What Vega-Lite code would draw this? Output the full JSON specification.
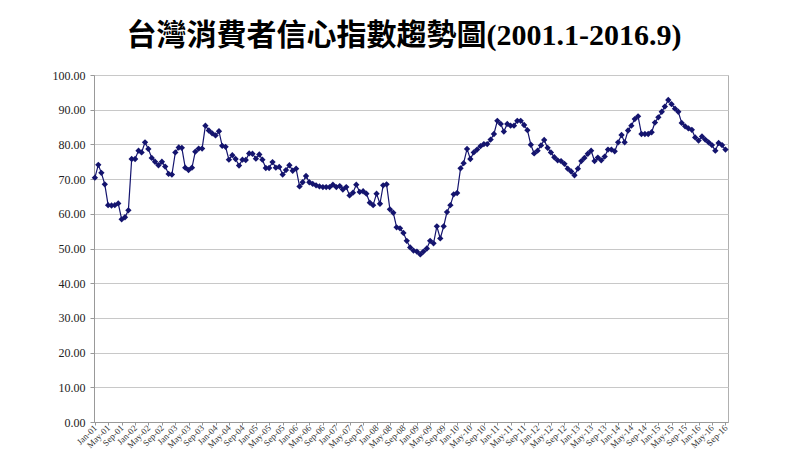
{
  "$schema": "https://vega.github.io/schema/vega-lite/v6.json",
  "width": 634,
  "height": 347,
  "autosize": {"type": "none"},
  "padding": {"left": 94, "top": 75, "right": 72, "bottom": 28},
  "background": "white",
  "title": {
    "text": "台灣消費者信心指數趨勢圖(2001.1-2016.9)",
    "font": "Liberation Serif, Noto Sans CJK TC",
    "fontSize": 30,
    "fontWeight": "bold",
    "color": "#000000",
    "anchor": "middle",
    "frame": "group",
    "offset": 18,
    "dx": -7
  },
  "config": {"view": {"stroke": "#b0b0b0", "strokeWidth": 1}},
  "data": {
    "values": [
      {"month": "2001-01-01", "cci": 70.4}, {"month": "2001-02-01", "cci": 74.1}, {"month": "2001-03-01", "cci": 71.8}, {"month": "2001-04-01", "cci": 68.5},
      {"month": "2001-05-01", "cci": 62.5}, {"month": "2001-06-01", "cci": 62.4}, {"month": "2001-07-01", "cci": 62.5}, {"month": "2001-08-01", "cci": 63.0},
      {"month": "2001-09-01", "cci": 58.4}, {"month": "2001-10-01", "cci": 59.0}, {"month": "2001-11-01", "cci": 61.0}, {"month": "2001-12-01", "cci": 75.8},
      {"month": "2002-01-01", "cci": 75.8}, {"month": "2002-02-01", "cci": 78.2}, {"month": "2002-03-01", "cci": 77.7}, {"month": "2002-04-01", "cci": 80.6},
      {"month": "2002-05-01", "cci": 78.7}, {"month": "2002-06-01", "cci": 76.1}, {"month": "2002-07-01", "cci": 75.0}, {"month": "2002-08-01", "cci": 74.0},
      {"month": "2002-09-01", "cci": 75.0}, {"month": "2002-10-01", "cci": 73.6}, {"month": "2002-11-01", "cci": 71.5}, {"month": "2002-12-01", "cci": 71.3},
      {"month": "2003-01-01", "cci": 77.7}, {"month": "2003-02-01", "cci": 79.1}, {"month": "2003-03-01", "cci": 79.0}, {"month": "2003-04-01", "cci": 73.3},
      {"month": "2003-05-01", "cci": 72.6}, {"month": "2003-06-01", "cci": 73.3}, {"month": "2003-07-01", "cci": 77.9}, {"month": "2003-08-01", "cci": 78.8},
      {"month": "2003-09-01", "cci": 78.8}, {"month": "2003-10-01", "cci": 85.4}, {"month": "2003-11-01", "cci": 84.0}, {"month": "2003-12-01", "cci": 83.2},
      {"month": "2004-01-01", "cci": 82.6}, {"month": "2004-02-01", "cci": 83.8}, {"month": "2004-03-01", "cci": 79.6}, {"month": "2004-04-01", "cci": 79.3},
      {"month": "2004-05-01", "cci": 75.6}, {"month": "2004-06-01", "cci": 76.9}, {"month": "2004-07-01", "cci": 75.8}, {"month": "2004-08-01", "cci": 73.9},
      {"month": "2004-09-01", "cci": 75.6}, {"month": "2004-10-01", "cci": 75.5}, {"month": "2004-11-01", "cci": 77.4}, {"month": "2004-12-01", "cci": 77.3},
      {"month": "2005-01-01", "cci": 75.9}, {"month": "2005-02-01", "cci": 77.1}, {"month": "2005-03-01", "cci": 75.6}, {"month": "2005-04-01", "cci": 73.2},
      {"month": "2005-05-01", "cci": 73.2}, {"month": "2005-06-01", "cci": 74.9}, {"month": "2005-07-01", "cci": 73.3}, {"month": "2005-08-01", "cci": 73.5},
      {"month": "2005-09-01", "cci": 71.3}, {"month": "2005-10-01", "cci": 72.6}, {"month": "2005-11-01", "cci": 74.0}, {"month": "2005-12-01", "cci": 72.4},
      {"month": "2006-01-01", "cci": 73.0}, {"month": "2006-02-01", "cci": 67.9}, {"month": "2006-03-01", "cci": 69.1}, {"month": "2006-04-01", "cci": 70.9},
      {"month": "2006-05-01", "cci": 69.1}, {"month": "2006-06-01", "cci": 68.6}, {"month": "2006-07-01", "cci": 68.2}, {"month": "2006-08-01", "cci": 67.9},
      {"month": "2006-09-01", "cci": 67.7}, {"month": "2006-10-01", "cci": 67.7}, {"month": "2006-11-01", "cci": 67.7}, {"month": "2006-12-01", "cci": 68.4},
      {"month": "2007-01-01", "cci": 67.7}, {"month": "2007-02-01", "cci": 68.0}, {"month": "2007-03-01", "cci": 67.0}, {"month": "2007-04-01", "cci": 67.7},
      {"month": "2007-05-01", "cci": 65.3}, {"month": "2007-06-01", "cci": 66.1}, {"month": "2007-07-01", "cci": 68.4}, {"month": "2007-08-01", "cci": 66.3},
      {"month": "2007-09-01", "cci": 66.5}, {"month": "2007-10-01", "cci": 65.8}, {"month": "2007-11-01", "cci": 63.2}, {"month": "2007-12-01", "cci": 62.5},
      {"month": "2008-01-01", "cci": 65.8}, {"month": "2008-02-01", "cci": 62.9}, {"month": "2008-03-01", "cci": 68.2}, {"month": "2008-04-01", "cci": 68.5},
      {"month": "2008-05-01", "cci": 61.3}, {"month": "2008-06-01", "cci": 60.3}, {"month": "2008-07-01", "cci": 56.1}, {"month": "2008-08-01", "cci": 55.8},
      {"month": "2008-09-01", "cci": 54.5}, {"month": "2008-10-01", "cci": 52.2}, {"month": "2008-11-01", "cci": 50.3}, {"month": "2008-12-01", "cci": 49.4},
      {"month": "2009-01-01", "cci": 49.1}, {"month": "2009-02-01", "cci": 48.3}, {"month": "2009-03-01", "cci": 49.1}, {"month": "2009-04-01", "cci": 50.0},
      {"month": "2009-05-01", "cci": 52.2}, {"month": "2009-06-01", "cci": 51.5}, {"month": "2009-07-01", "cci": 56.4}, {"month": "2009-08-01", "cci": 52.9},
      {"month": "2009-09-01", "cci": 56.4}, {"month": "2009-10-01", "cci": 60.5}, {"month": "2009-11-01", "cci": 62.5}, {"month": "2009-12-01", "cci": 65.6},
      {"month": "2010-01-01", "cci": 66.0}, {"month": "2010-02-01", "cci": 73.1}, {"month": "2010-03-01", "cci": 74.6}, {"month": "2010-04-01", "cci": 78.7},
      {"month": "2010-05-01", "cci": 75.8}, {"month": "2010-06-01", "cci": 77.7}, {"month": "2010-07-01", "cci": 78.5}, {"month": "2010-08-01", "cci": 79.5},
      {"month": "2010-09-01", "cci": 80.1}, {"month": "2010-10-01", "cci": 80.1}, {"month": "2010-11-01", "cci": 81.4}, {"month": "2010-12-01", "cci": 83.0},
      {"month": "2011-01-01", "cci": 86.8}, {"month": "2011-02-01", "cci": 85.9}, {"month": "2011-03-01", "cci": 83.7}, {"month": "2011-04-01", "cci": 85.9},
      {"month": "2011-05-01", "cci": 85.4}, {"month": "2011-06-01", "cci": 85.4}, {"month": "2011-07-01", "cci": 86.8}, {"month": "2011-08-01", "cci": 86.8},
      {"month": "2011-09-01", "cci": 85.6}, {"month": "2011-10-01", "cci": 84.1}, {"month": "2011-11-01", "cci": 79.9}, {"month": "2011-12-01", "cci": 77.4},
      {"month": "2012-01-01", "cci": 78.2}, {"month": "2012-02-01", "cci": 79.7}, {"month": "2012-03-01", "cci": 81.3}, {"month": "2012-04-01", "cci": 79.0},
      {"month": "2012-05-01", "cci": 77.7}, {"month": "2012-06-01", "cci": 76.3}, {"month": "2012-07-01", "cci": 75.4}, {"month": "2012-08-01", "cci": 75.2},
      {"month": "2012-09-01", "cci": 74.4}, {"month": "2012-10-01", "cci": 73.0}, {"month": "2012-11-01", "cci": 72.2}, {"month": "2012-12-01", "cci": 71.1},
      {"month": "2013-01-01", "cci": 73.0}, {"month": "2013-02-01", "cci": 75.2}, {"month": "2013-03-01", "cci": 76.1}, {"month": "2013-04-01", "cci": 77.3},
      {"month": "2013-05-01", "cci": 78.2}, {"month": "2013-06-01", "cci": 75.2}, {"month": "2013-07-01", "cci": 76.2}, {"month": "2013-08-01", "cci": 75.4},
      {"month": "2013-09-01", "cci": 76.5}, {"month": "2013-10-01", "cci": 78.5}, {"month": "2013-11-01", "cci": 78.5}, {"month": "2013-12-01", "cci": 78.0},
      {"month": "2014-01-01", "cci": 80.6}, {"month": "2014-02-01", "cci": 82.7}, {"month": "2014-03-01", "cci": 80.6}, {"month": "2014-04-01", "cci": 84.0},
      {"month": "2014-05-01", "cci": 85.4}, {"month": "2014-06-01", "cci": 87.3}, {"month": "2014-07-01", "cci": 88.1}, {"month": "2014-08-01", "cci": 83.0},
      {"month": "2014-09-01", "cci": 83.0}, {"month": "2014-10-01", "cci": 83.0}, {"month": "2014-11-01", "cci": 83.5}, {"month": "2014-12-01", "cci": 86.3},
      {"month": "2015-01-01", "cci": 87.8}, {"month": "2015-02-01", "cci": 89.4}, {"month": "2015-03-01", "cci": 90.9}, {"month": "2015-04-01", "cci": 92.8},
      {"month": "2015-05-01", "cci": 91.6}, {"month": "2015-06-01", "cci": 90.3}, {"month": "2015-07-01", "cci": 89.4}, {"month": "2015-08-01", "cci": 86.2},
      {"month": "2015-09-01", "cci": 85.2}, {"month": "2015-10-01", "cci": 84.6}, {"month": "2015-11-01", "cci": 84.2}, {"month": "2015-12-01", "cci": 82.0},
      {"month": "2016-01-01", "cci": 81.1}, {"month": "2016-02-01", "cci": 82.3}, {"month": "2016-03-01", "cci": 81.4}, {"month": "2016-04-01", "cci": 80.6},
      {"month": "2016-05-01", "cci": 79.8}, {"month": "2016-06-01", "cci": 78.2}, {"month": "2016-07-01", "cci": 80.4}, {"month": "2016-08-01", "cci": 79.8},
      {"month": "2016-09-01", "cci": 78.5}
    ]
  },
  "encoding": {
    "x": {
      "field": "month",
      "type": "temporal",
      "scale": {
        "type": "utc",
        "domain": [
          {"year": 2000, "month": 12, "date": 24, "utc": true},
          {"year": 2016, "month": 9, "date": 24, "utc": true}
        ]
      },
      "axis": {
        "title": null,
        "tickCount": {"interval": "month", "step": 4},
        "labelExpr": "utcFormat(datum.value, '%b-%y')",
        "labelAngle": -45,
        "labelAlign": "right",
        "labelBaseline": "middle",
        "labelFont": "Liberation Serif",
        "labelFontSize": 9,
        "labelColor": "#333333",
        "labelOverlap": false,
        "labelFlush": false,
        "labelPadding": 1,
        "grid": false,
        "domainColor": "#999999",
        "tickColor": "#999999",
        "tickSize": 3
      }
    },
    "y": {
      "field": "cci",
      "type": "quantitative",
      "scale": {"domain": [0, 100], "nice": false, "zero": true},
      "axis": {
        "title": null,
        "values": [0, 10, 20, 30, 40, 50, 60, 70, 80, 90, 100],
        "format": ".2f",
        "labelFont": "Liberation Serif",
        "labelFontSize": 12,
        "labelColor": "#222222",
        "labelPadding": 5,
        "gridColor": "#c8c8c8",
        "domainColor": "#999999",
        "tickColor": "#999999",
        "tickSize": 4
      }
    }
  },
  "layer": [
    {"mark": {"type": "line", "color": "#14146e", "strokeWidth": 1.2}, "encoding": {}},
    {"mark": {"type": "point", "shape": "diamond", "filled": true, "size": 40, "color": "#14146e", "opacity": 1}, "encoding": {}}
  ]
}
